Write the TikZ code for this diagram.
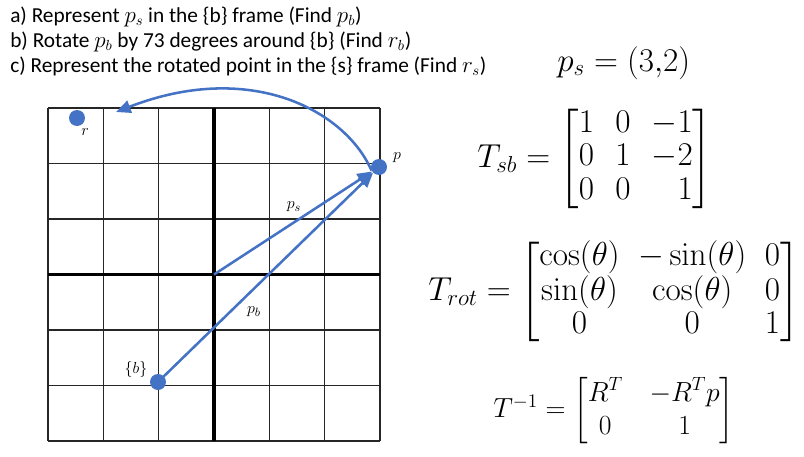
\documentclass[tikz,border=0pt]{standalone}
\usepackage{amsmath}
\usepackage[no-math]{fontspec}
\setmainfont{Carlito}
\usetikzlibrary{arrows.meta}
\definecolor{obl}{HTML}{4472C4}
\begin{document}
\begin{tikzpicture}[x=0.75pt,y=-0.75pt,
  gridline/.style={line width=1.1pt,black!85},
  axisline/.style={line width=2.6pt,black},
  dot/.style={circle,fill=obl,minimum size=12pt,inner sep=0pt},
  arr/.style={obl,line width=1.9pt,-{Triangle[length=11pt,width=9.5pt]}},
  lbl/.style={font=\fontsize{13}{15}\selectfont,inner sep=0pt},
  task/.style={anchor=base west,inner sep=0pt,font=\fontsize{16}{19}\selectfont},
  eq/.style={inner sep=0pt,font=\fontsize{25}{25}\selectfont}]
\useasboundingbox (0,0) rectangle (804,457);
% task lines
\node[task] (ta) at (10,22) {a) Represent $p_s$ in the \{b\} frame (Find $p_b$)};
\node[task] (tb) at (10,47) {b) Rotate $p_b$ by 73 degrees around \{b\} (Find $r_b$)};
\node[task] (tc) at (10,72) {c) Represent the rotated point in the \{s\} frame (Find $r_s$)};
% grid
\foreach \i in {0,...,6} {
  \draw[gridline] (48+55.33*\i,108) -- (48+55.33*\i,441);
  \draw[gridline] (48,108+55.5*\i) -- (380,108+55.5*\i);
}
\draw[axisline] (214,108) -- (214,441);
\draw[axisline] (48,274.5) -- (380,274.5);
% points
\coordinate (o) at (214,274.5);
\node[dot] (p) at (379,167) {};
\node[dot] (r) at (77,118) {};
\node[dot] (b) at (158,382) {};
\coordinate (rt) at (116,112);
% labels
\node[lbl] (lp) at (397,158) {$p$};
\node[lbl] (lr) at (85,132) {$r$};
\node[lbl] (lb) at (136,369) {$\{b\}$};
\node[lbl] (lps) at (294,207) {$p_s$};
\node[lbl] (lpb) at (254,312) {$p_b$};
% arrows
\draw[arr] (o) -- (p);
\draw[arr] (b.center) -- (p);
\draw[arr] (p.205) .. controls (345,110) and (250,60) .. (rt);
% equations
\node[eq,anchor=base west] (ps) at (557,71) {$p_s = (3{,}2)$};
\node[eq,anchor=west] (tsb) at (477,159) {\setlength{\arraycolsep}{8pt}$T_{sb} = \begin{bmatrix} 1 & 0 & -1\\ 0 & 1 & -2\\ 0 & 0 & \phantom{-}1\end{bmatrix}$};
\node[eq,anchor=west] (trot) at (428,292) {\setlength{\arraycolsep}{7pt}$T_{rot} = \begin{bmatrix} \cos(\theta) & -\sin(\theta) & 0\\ \sin(\theta) & \cos(\theta) & 0\\ 0 & 0 & 1\end{bmatrix}$};
\node[eq,anchor=west,font=\fontsize{22.5}{25}\selectfont] (tinv) at (493,411) {\setlength{\arraycolsep}{10pt}$T^{-1} = \begin{bmatrix} R^T & -R^Tp\\ 0 & 1\end{bmatrix}$};
\end{tikzpicture}
\end{document}
